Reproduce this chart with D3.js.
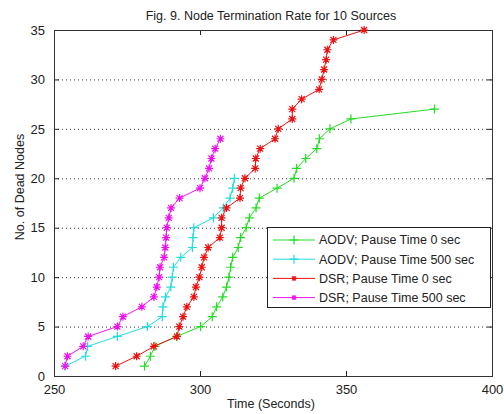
<!DOCTYPE html>
<html>
<head>
<meta charset="utf-8">
<script src="https://cdn.jsdelivr.net/npm/d3@7"></script>
<style>
  body { margin: 0; background: #fff; }
  svg text { font-family: "Liberation Sans", Arial, sans-serif; fill: #222; }
</style>
</head>
<body>
<svg id="chart" width="504" height="414"></svg>
<script>
// time (s) at which each node died, per protocol / pause time
const aodv0Time = [281, 283, 284.6, 292, 300.2, 304.2, 305.7, 307.8, 309.1, 309.9, 310.5, 311.2, 313.1, 313.9,
  315.8, 316.9, 319.2, 320.3, 326.4, 332.2, 333.1, 336.2, 340, 340.9, 344.5, 351.7, 380.3];
const aodv0Dead = [1, 2, 3, 4, 5, 6, 7, 8, 9, 10, 11, 12, 13, 14, 15, 16, 17, 18, 19, 20, 21, 22, 23, 24, 25, 26, 27];

const aodv500Time = [253.8, 260.8, 261.5, 271.7, 282, 287.1, 287.3, 288.2, 290, 290.5, 290.9, 293.4, 297.4, 297.6,
  297.9, 304.6, 308, 310.3, 311.2, 311.8];
const aodv500Dead = [1, 2, 3, 4, 5, 6, 7, 8, 9, 10, 11, 12, 13, 14, 15, 16, 17, 18, 19, 20];

const dsr0Time = [271.1, 278.3, 284.2, 292.1, 292.9, 294.2, 295.5, 297.9, 298.6, 299.8, 300.6, 301.4, 302.8, 306.8,
  307.4, 307.4, 309.1, 313.7, 313.9, 315.4, 318.9, 319.1, 320.6, 325.7, 326.8, 331.6, 331.6, 334.8, 340.8, 341.7,
  342.5, 343.2, 343.6, 345.7, 356.2];
const dsr0Dead = [1, 2, 3, 4, 5, 6, 7, 8, 9, 10, 11, 12, 13, 14, 15, 16, 17, 18, 19, 20, 21, 22, 23, 24, 25, 26, 27,
  28, 29, 30, 31, 32, 33, 34, 35];

const dsr500Time = [253.8, 254.6, 260, 261.7, 271.7, 273.6, 280.1, 284.2, 285.2, 286, 286.3, 287.7, 288.1, 288.4,
  288.6, 289.3, 290.1, 293, 300, 301.7, 303.1, 303.9, 305.2, 307];
const dsr500Dead = [1, 2, 3, 4, 5, 6, 7, 8, 9, 10, 11, 12, 13, 14, 15, 16, 17, 18, 19, 20, 21, 22, 23, 24];

const seriesNames = ['AODV; Pause Time 0 sec', 'AODV; Pause Time 500 sec', 'DSR; Pause Time 0 sec', 'DSR; Pause Time 500 sec'];
const xTicks = [250, 300, 350, 400];
const yTicks = [0, 5, 10, 15, 20, 25, 30, 35];

const series = [
  { name: seriesNames[0], xs: aodv0Time, ys: aodv0Dead, color: '#22dd22', marker: 'plus' },
  { name: seriesNames[1], xs: aodv500Time, ys: aodv500Dead, color: '#22dddd', marker: 'plus' },
  { name: seriesNames[2], xs: dsr0Time, ys: dsr0Dead, color: '#ee1111', marker: 'star' },
  { name: seriesNames[3], xs: dsr500Time, ys: dsr500Dead, color: '#ee11ee', marker: 'star' },
];

const svg = d3.select('#chart');
const plotL = 54, plotR = 492, plotT = 30, plotB = 376;

const x = d3.scaleLinear().domain([250, 400]).range([plotL, plotR]);
const y = d3.scaleLinear().domain([0, 35]).range([plotB, plotT]);

// horizontal dotted grid
svg.append('g')
  .selectAll('line')
  .data(yTicks.slice(1, -1))
  .join('line')
  .attr('x1', plotL).attr('x2', plotR)
  .attr('y1', d => y(d) + 0.5).attr('y2', d => y(d) + 0.5)
  .attr('stroke', '#333')
  .attr('stroke-width', 1)
  .attr('stroke-dasharray', '1,3');

// axes, ticks pointing inwards like matlab
const axisStyle = g => {
  g.select('.domain').remove();
  g.selectAll('.tick line').attr('stroke', '#222');
  g.selectAll('.tick text').attr('font-size', 13).attr('fill', '#222');
};

svg.append('g')
  .attr('transform', `translate(0,${plotB})`)
  .call(d3.axisBottom(x).tickValues(xTicks).tickSizeInner(-5).tickSizeOuter(0).tickPadding(9))
  .call(axisStyle);

svg.append('g')
  .attr('transform', `translate(0,${plotT})`)
  .call(d3.axisTop(x).tickValues(xTicks).tickSizeInner(-5).tickSizeOuter(0).tickFormat(''))
  .call(axisStyle);

svg.append('g')
  .attr('transform', `translate(${plotL},0)`)
  .call(d3.axisLeft(y).tickValues(yTicks).tickSizeInner(-5).tickSizeOuter(0).tickPadding(9))
  .call(axisStyle);

svg.append('g')
  .attr('transform', `translate(${plotR},0)`)
  .call(d3.axisRight(y).tickValues(yTicks).tickSizeInner(-5).tickSizeOuter(0).tickFormat(''))
  .call(axisStyle);

svg.append('rect')
  .attr('x', plotL + 0.5).attr('y', plotT + 0.5)
  .attr('width', plotR - plotL).attr('height', plotB - plotT)
  .attr('fill', 'none')
  .attr('stroke', '#333');

const markerPath = {
  plus: 'M-4.5,0H4.5M0,-4.5V4.5',
  star: 'M-4,0H4M0,-4V4M-3,-3L3,3M-3,3L3,-3',
};

const line = d3.line()
  .x(d => x(d[0]))
  .y(d => y(d[1]));

series.forEach(s => {
  const pts = s.xs.map((v, i) => [v, s.ys[i]]);
  const g = svg.append('g');
  g.append('path')
    .attr('d', line(pts))
    .attr('fill', 'none')
    .attr('stroke', s.color)
    .attr('stroke-width', 1);
  g.selectAll('path.m')
    .data(pts)
    .join('path')
    .attr('class', 'm')
    .attr('transform', d => `translate(${x(d[0])},${y(d[1])})`)
    .attr('d', markerPath[s.marker])
    .attr('stroke', s.color)
    .attr('stroke-width', 1.2)
    .attr('fill', 'none');
});

// legend
const legend = svg.append('g').attr('transform', 'translate(267,227)');
legend.append('rect')
  .attr('x', 0.5).attr('y', 0.5)
  .attr('width', 223).attr('height', 80)
  .attr('fill', '#fff')
  .attr('stroke', '#222');

const rows = legend.selectAll('g.row')
  .data(series)
  .join('g')
  .attr('class', 'row')
  .attr('transform', (d, i) => `translate(0,${13 + i * 19.2})`);
rows.append('line')
  .attr('x1', 6).attr('x2', 48)
  .attr('stroke', d => d.color);
rows.append('path')
  .attr('transform', 'translate(27,0)')
  .attr('d', d => d.marker === 'plus' ? 'M-4.5,0H4.5M0,-4.5V4.5' : 'M-2.5,0H2.5M0,-2.5V2.5M-2,-2L2,2M-2,2L2,-2')
  .attr('stroke', d => d.color)
  .attr('stroke-width', 1.2);
rows.append('text')
  .attr('x', 52)
  .attr('dy', '0.35em')
  .attr('font-size', 12.5)
  .text(d => d.name);

// titles
svg.append('text')
  .attr('x', 271).attr('y', 20)
  .attr('text-anchor', 'middle')
  .attr('font-size', 12.5)
  .text('Fig. 9. Node Termination Rate for 10 Sources');

svg.append('text')
  .attr('x', 271).attr('y', 408)
  .attr('text-anchor', 'middle')
  .attr('font-size', 12.5)
  .text('Time (Seconds)');

svg.append('text')
  .attr('transform', 'translate(24,187) rotate(-90)')
  .attr('text-anchor', 'middle')
  .attr('font-size', 12.5)
  .text('No. of Dead Nodes');
</script>
</body>
</html>
